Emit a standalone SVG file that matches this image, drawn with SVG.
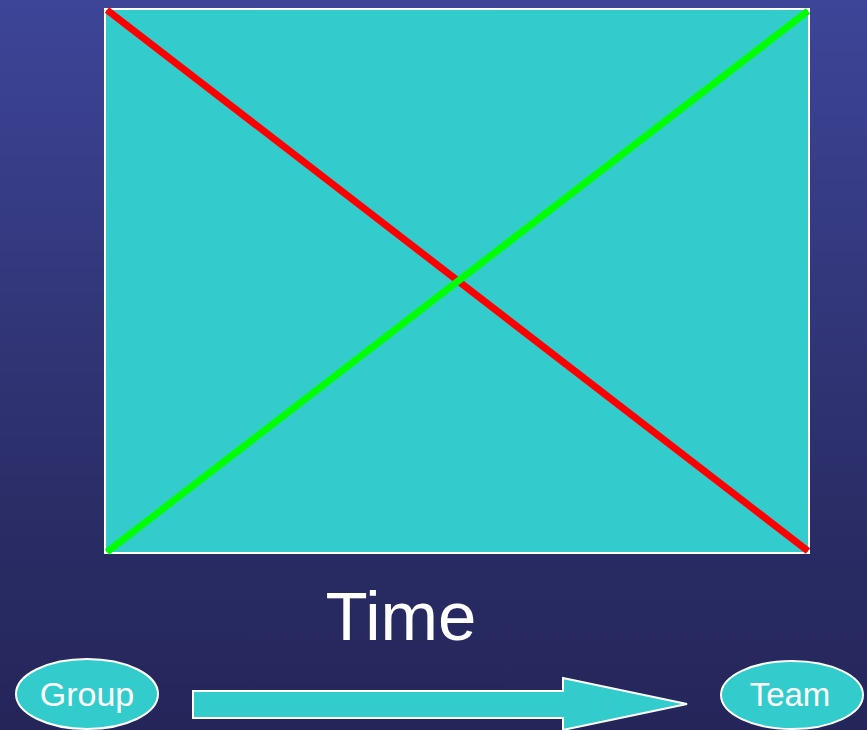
<svg xmlns="http://www.w3.org/2000/svg" width="867" height="730" viewBox="0 0 867 730">
<defs>
<linearGradient id="bg" x1="0" y1="0" x2="0" y2="1">
<stop offset="0" stop-color="#3d4598"/>
<stop offset="0.35" stop-color="#34397f"/>
<stop offset="0.7" stop-color="#2a2d66"/>
<stop offset="1" stop-color="#24265a"/>
</linearGradient>
<style>
.box{fill:#33cccc;stroke:#ffffff;stroke-width:2}
.lbl{font-family:"Liberation Sans",Arial,sans-serif;fill:#ffffff;text-anchor:middle}
</style>
</defs>
<rect width="867" height="730" fill="url(#bg)"/>
<g id="chart">
<rect class="box" x="105" y="9" width="704" height="544"/>
<line x1="107" y1="10" x2="808" y2="551" stroke="#ff0000" stroke-width="7"/>
<line x1="107" y1="552" x2="808" y2="11" stroke="#00ff00" stroke-width="7"/>
</g>
<g id="time">
<text class="lbl" x="401" y="640" font-size="69">Time</text>
</g>
<g id="group">
<ellipse class="box" cx="87" cy="694" rx="71" ry="35"/>
<text class="lbl" x="87" y="706" font-size="34">Group</text>
</g>
<g id="team">
<ellipse class="box" cx="792" cy="695" rx="71" ry="34"/>
<text class="lbl" x="790" y="706" font-size="33">Team</text>
</g>
<g id="connectors">
<path class="box" d="M193,691 L563,691 L563,678 L687,704 L563,730 L563,718 L193,718 Z"/>
</g>
</svg>
